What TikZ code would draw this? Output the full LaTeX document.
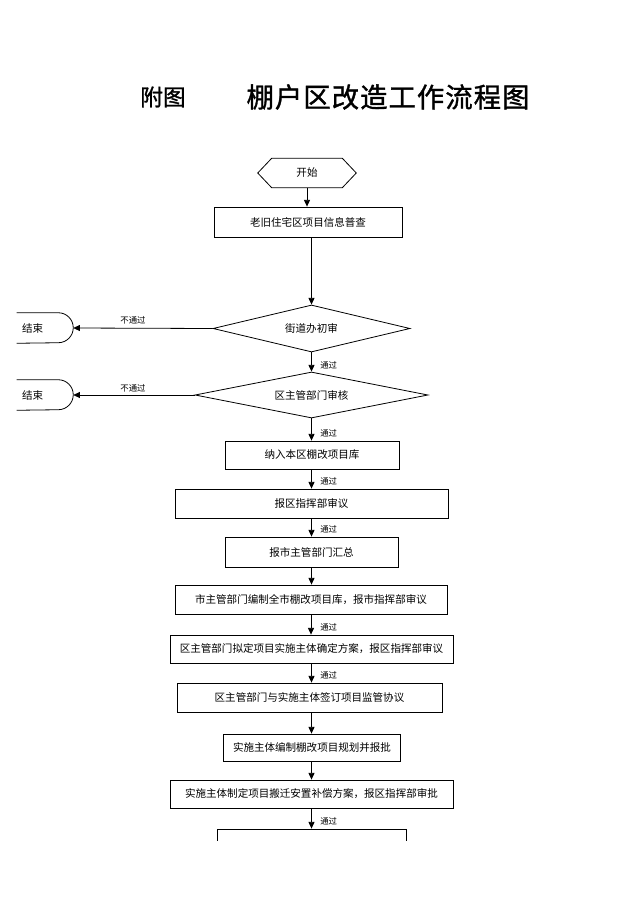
\documentclass[tikz,border=0pt]{standalone}
\usepackage{fontspec}
\setmainfont{Noto Sans CJK SC}
\newfontfamily\titlefont[FakeBold=1.2]{Noto Sans CJK SC}
\usetikzlibrary{shapes.geometric,arrows.meta}
\newcommand\pxu{0.75pt}
\begin{document}
\begin{tikzpicture}[x=0.75pt,y=-0.75pt,
  every node/.style={font=\fontsize{7.9pt}{9pt}\selectfont, inner sep=0pt},
  box/.style={draw, line width=0.6pt},
  dec/.style={diamond, draw, line width=0.6pt, aspect=4, inner sep=0pt},
  arr/.style={line width=0.6pt, -{Triangle[length=5pt,width=4.5pt]}},
  lab/.style={font=\fontsize{6.3pt}{7pt}\selectfont},
  ln/.style={line width=0.6pt}
]
\useasboundingbox (0,0) rectangle (640,905);
\fill[white] (0,0) rectangle (640,905);

% title
\node[font=\titlefont\fontsize{17pt}{20pt}\selectfont] (t1) at (163,97) {附图};
\node[font=\titlefont\fontsize{20.5pt}{24pt}\selectfont] (t2) at (388,97) {棚\kern0.8pt 户\kern0.8pt 区\kern0.8pt 改\kern0.8pt 造\kern0.8pt 工\kern0.8pt 作\kern0.8pt 流\kern0.8pt 程\kern0.8pt 图};

% start hexagon
\node[minimum width=98*\pxu, minimum height=29*\pxu] (s) at (307,173) {开始};
\draw[ln] (s.west) -- ([xshift=14*\pxu]s.north west) -- ([xshift=-14*\pxu]s.north east)
  -- (s.east) -- ([xshift=-14*\pxu]s.south east) -- ([xshift=14*\pxu]s.south west) -- cycle;

% boxes
\node[box, minimum width=188*\pxu, minimum height=30*\pxu] (b1) at (308,222) {老旧住宅区项目信息普查};
\node[dec, minimum width=197*\pxu, minimum height=47*\pxu] (d1) at (311.5,328.5) {街道办初审};
\node[dec, minimum width=233*\pxu, minimum height=46*\pxu] (d2) at (311.5,395) {区主管部门审核};
\node[box, minimum width=174*\pxu, minimum height=28*\pxu] (b2) at (312,455) {纳入本区棚改项目库};
\node[box, minimum width=273*\pxu, minimum height=29*\pxu] (b3) at (311.5,503.5) {报区指挥部审议};
\node[box, minimum width=173*\pxu, minimum height=30*\pxu] (b4) at (311.5,552) {报市主管部门汇总};
\node[box, minimum width=272*\pxu, minimum height=29*\pxu] (b5) at (311,599.5) {市主管部门编制全市棚改项目库，报市指挥部审议};
\node[box, minimum width=283*\pxu, minimum height=28*\pxu] (b6) at (311.5,649) {区主管部门拟定项目实施主体确定方案，报区指挥部审议};
\node[box, minimum width=265*\pxu, minimum height=29*\pxu] (b7) at (309.5,697.5) {区主管部门与实施主体签订项目监管协议};
\node[box, minimum width=177*\pxu, minimum height=27*\pxu] (b8) at (312,747.5) {实施主体编制棚改项目规划并报批};
\node[box, minimum width=283*\pxu, minimum height=28*\pxu] (b9) at (311.5,794) {实施主体制定项目搬迁安置补偿方案，报区指挥部审批};
\begin{scope}
\clip (0,0) rectangle (640,840);
\node[box, minimum width=189*\pxu, minimum height=29*\pxu] (b10) at (311.5,843.5) {};
\end{scope}

% end terminals
\node[minimum width=56*\pxu, minimum height=30*\pxu] (e1) at (45,328) {};
\node[anchor=west] (e1t) at ([xshift=5*\pxu]e1.west) {结束};
\draw[ln] (e1.north west) -- ([xshift=-11.25pt]e1.north east)
  arc[start angle=90, end angle=-90, radius=11.25pt] -- (e1.south west);
\node[minimum width=56*\pxu, minimum height=30*\pxu] (e2) at (45,395) {};
\node[anchor=west] (e2t) at ([xshift=5*\pxu]e2.west) {结束};
\draw[ln] (e2.north west) -- ([xshift=-11.25pt]e2.north east)
  arc[start angle=90, end angle=-90, radius=11.25pt] -- (e2.south west);

% connectors
\draw[arr] (s.south) -- (s.south |- b1.north);
\draw[arr] (d1.north |- b1.south) -- (d1.north);
\draw[arr] (d1.south) -- (d2.north);
\draw[arr] (d2.south) -- (d2.south |- b2.north);
\draw[arr] (b2.south -| d2.south) -- (d2.south |- b3.north);
\draw[arr] (b3.south) -- (b3.south |- b4.north);
\draw[arr] (b4.south) -- (b4.south |- b5.north);
\draw[arr] (b5.south) -- (b5.south |- b6.north);
\draw[arr] (b6.south) -- (b6.south |- b7.north);
\draw[arr] (b7.south -| b6.south) -- (b6.south |- b8.north);
\draw[arr] (b8.south -| b6.south) -- (b6.south |- b9.north);
\draw[arr] (b9.south) -- (b9.south |- b10.north);
\draw[arr] (d1.west) -- (e1.east);
\draw[arr] (d2.west) -- (e2.east);

% labels
\node[lab] (n1) at (133,320) {不通过};
\node[lab] (n2) at (133,388) {不通过};
\node[lab, anchor=west] (p1) at (320,365) {通过};
\node[lab, anchor=west] (p2) at (320,433) {通过};
\node[lab, anchor=west] (p3) at (320,481) {通过};
\node[lab, anchor=west] (p4) at (320,529) {通过};
\node[lab, anchor=west] (p5) at (320,627) {通过};
\node[lab, anchor=west] (p6) at (320,675) {通过};
\node[lab, anchor=west] (p7) at (320,821) {通过};
\end{tikzpicture}
\end{document}
